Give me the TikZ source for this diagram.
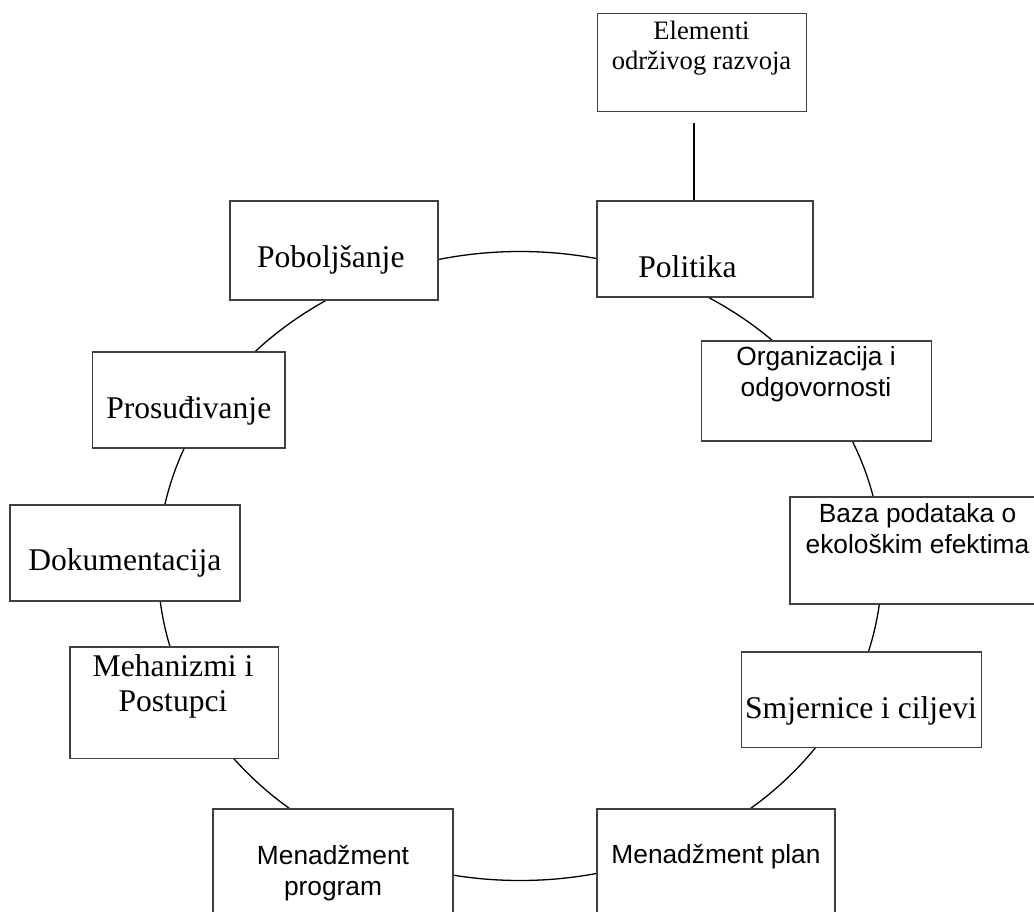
\documentclass[tikz,border=0pt]{standalone}
\usepackage{fontspec}
\setmainfont{Liberation Serif}
\newfontfamily\arialf{Liberation Sans}
\begin{document}
\begin{tikzpicture}[x=1pt,y=-1pt,
  box/.style={draw=black!75, line width=1.1pt, fill=white, inner sep=0pt},
  ser/.style={font=\fontsize{31.6}{35}\selectfont, inner sep=0pt, anchor=base, align=center},
  sers/.style={font=\fontsize{26.6}{30.7}\selectfont, inner sep=0pt, anchor=base, align=center},
  san/.style={font=\arialf\fontsize{26.3}{31}\selectfont, inner sep=0pt, anchor=base, align=center},
  ring/.style={draw=black, line width=1.3pt}]
\useasboundingbox (0,0) rectangle (1034,912);
\begin{scope}
\clip (0,0) rectangle (1034,912);
\draw[ring] (520,566) ellipse [x radius=362, y radius=314.5];
\node[box, minimum width=209, minimum height=98.4] (elem) at (702.2,62.5) {};
\node[box, minimum width=216, minimum height=96] (pol) at (705,249) {};
\node[box, minimum width=208, minimum height=99] (pob) at (334,250.5) {};
\node[box, minimum width=192.3, minimum height=96] (pros) at (188.85,400) {};
\node[box, minimum width=230, minimum height=96] (dok) at (125,553) {};
\node[box, minimum width=208.3, minimum height=111.3] (meh) at (174.15,702.65) {};
\node[box, minimum width=230, minimum height=100] (org) at (816.7,391) {};
\node[box, minimum width=256, minimum height=107] (baza) at (918,550.5) {};
\node[box, minimum width=240, minimum height=95.3] (smj) at (861.7,699.65) {};
\node[box, minimum width=240, minimum height=151] (prog) at (333,884.5) {};
\node[box, minimum width=238, minimum height=151] (plan) at (716,884.5) {};
\coordinate (lk) at (694,0);
\draw[ring, shorten <=11pt] (elem.south -| lk) -- (pol.north -| lk);
% anchor=base of a multi-line node is the baseline of its last line
\node[sers] (elemT) at (701.5,70) {Elementi\\održivog razvoja};
\node[ser] (polT) at (687.5,277) {Politika};
\node[ser] (pobT) at (330.8,267.3) {Poboljšanje};
\node[ser] (prosT) at (188.8,418.3) {Prosuđivanje};
\node[ser] (dokT) at (124.8,570) {Dokumentacija};
\node[ser] (mehT) at (173,711.7) {Mehanizmi i\\Postupci};
\node[san] (orgT) at (816,396) {Organizacija i\\odgovornosti};
\node[san] (bazaT) at (917.5,553) {Baza podataka o\\ekološkim efektima};
\node[ser] (smjT) at (861,718.3) {Smjernice i ciljevi};
\node[san] (progT) at (333,895) {Menadžment\\program};
\node[san] (planT) at (716,863) {Menadžment plan};
\end{scope}
\end{tikzpicture}
\end{document}
